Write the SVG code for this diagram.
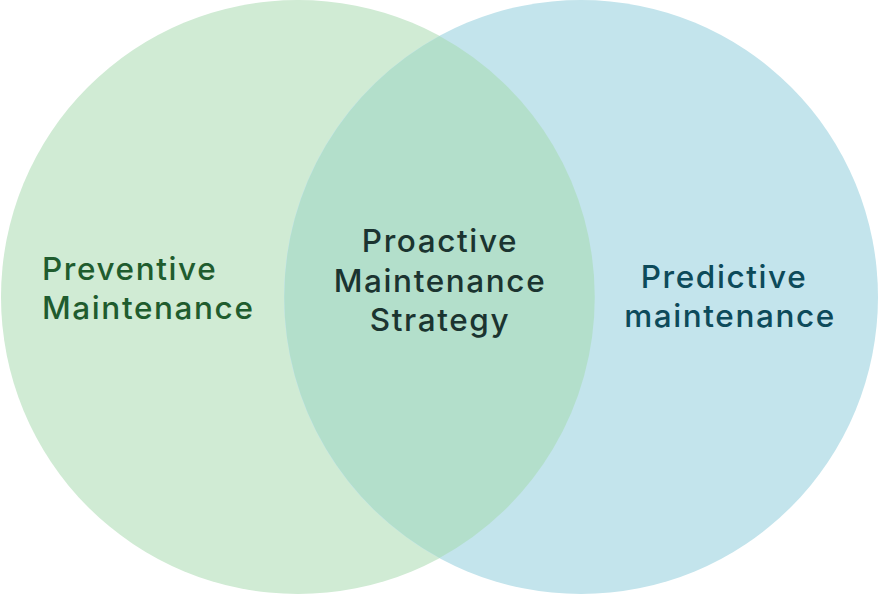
<svg xmlns="http://www.w3.org/2000/svg" width="878" height="594" viewBox="0 0 878 594">
<style>
text{font-family:Inter,"Open Sans","Liberation Sans",sans-serif;font-size:31.5px;font-weight:500;letter-spacing:1.6px}
.l{fill:#1f5c2e}
.c{fill:#1b3430;text-anchor:middle}
.r{fill:#0d4a5a;text-anchor:middle}
</style>
<rect width="878" height="594" fill="#ffffff"/>
<g id="preventive">
<circle cx="298" cy="297" r="297" fill="#d0ebd4"/>
<text class="l" x="42" y="280">Preventive</text>
<text class="l" x="42" y="319">Maintenance</text>
</g>
<g id="predictive">
<circle cx="581" cy="297" r="297" fill="#c3e4ec"/>
<text class="r" x="724" y="288">Predictive</text>
<text class="r" x="730" y="327">maintenance</text>
</g>
<g id="proactive">
<path d="M439.5,36 A297,297 0 0 1 439.5,558 A297,297 0 0 1 439.5,36 Z" fill="#b3dfcb"/>
<text class="c" x="440" y="252">Proactive</text>
<text class="c" x="440" y="292">Maintenance</text>
<text class="c" x="440" y="331">Strategy</text>
</g>
<g id="connectors"/>
</svg>
